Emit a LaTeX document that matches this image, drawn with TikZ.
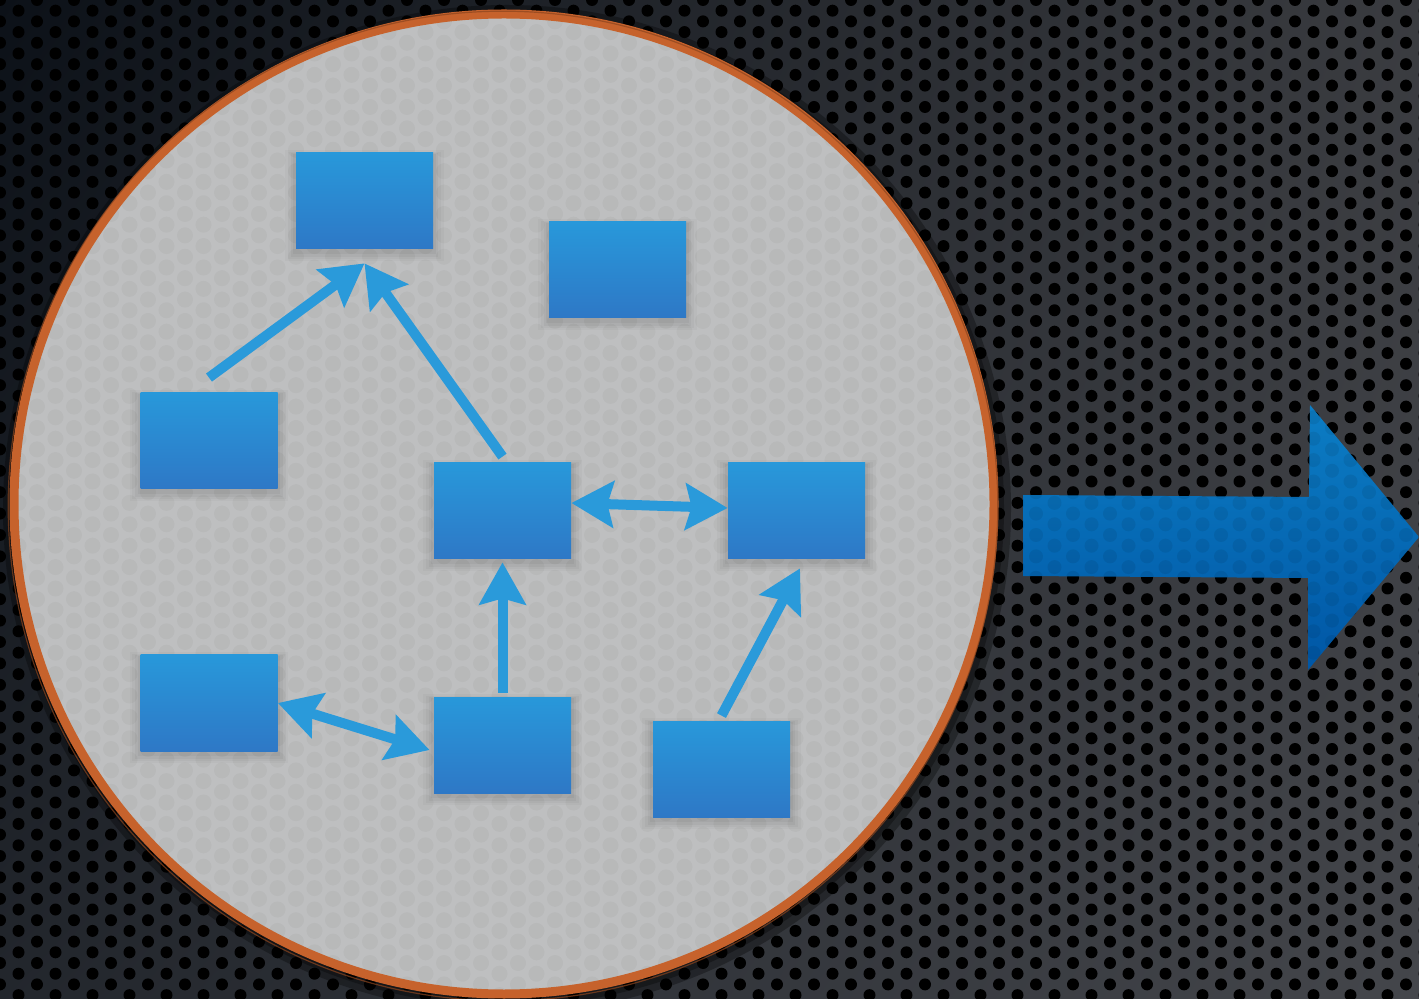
\documentclass[tikz,border=0pt]{standalone}
\usetikzlibrary{arrows.meta,shadows,shadings}
\definecolor{bgdark}{HTML}{0C1118}
\definecolor{bglight}{HTML}{44464B}
\definecolor{disc}{HTML}{BEBFC0}
\definecolor{rim}{HTML}{C6622C}
\definecolor{boxtop}{HTML}{2898DA}
\definecolor{boxbot}{HTML}{2E78C6}
\definecolor{arrc}{HTML}{2A9ADA}
\definecolor{bigtop}{HTML}{0C7DC4}
\definecolor{bigbot}{HTML}{0056A5}
\tikzset{
  blk/.style={rectangle, minimum width=68.5pt, minimum height=48pt, inner sep=0pt,
    top color=boxtop, bottom color=boxbot,
    general shadow={fill=black, opacity=0.025, shadow scale=1.16, shadow yshift=-2pt},
    general shadow={fill=black, opacity=0.03, shadow scale=1.12, shadow yshift=-2pt},
    general shadow={fill=black, opacity=0.035, shadow scale=1.08, shadow yshift=-2pt},
    general shadow={fill=black, opacity=0.04, shadow scale=1.04, shadow yshift=-1.5pt}},
  con/.style={draw=arrc, line width=5pt, -{Stealth[length=21pt, width=23pt, inset=3pt]}},
  bicon/.style={draw=arrc, line width=5pt, {Stealth[length=21pt, width=23pt, inset=3pt]}-{Stealth[length=21pt, width=23pt, inset=3pt]}},
}
\begin{document}
\begin{tikzpicture}[x=0.5pt, y=-0.5pt]
\useasboundingbox (0,0) rectangle (1419,999);
% background
\shade[upper left=bgdark, upper right=bglight!85!black, lower left=bgdark!60!bglight, lower right=bglight]
  (0,0) rectangle (1419,999);
\foreach \i in {0,...,77} {
  \foreach \j in {0,...,47} {
    \fill[black] ({\i*18.5}, {\j*21.4 + mod(\i,2)*10.7}) circle[radius=3pt];
  }
}
% disc shadow
\fill[black, opacity=0.3] (507,509) circle[radius=252pt];
\fill[black, opacity=0.3] (506,508) circle[radius=249pt];
% disc
\fill[disc] (504,504) circle[radius=245pt];
\begin{scope}
  \clip (504,504) circle[radius=245pt];
  \foreach \i in {0,...,54} {
    \foreach \j in {0,...,47} {
      \fill[black, opacity=0.03] ({\i*18.5}, {\j*21.4 + mod(\i,2)*10.7}) circle[radius=4pt];
    }
  }
\end{scope}
\draw[rim, line width=4.5pt] (504,504) circle[radius=245pt];
\draw[rim!70!black, line width=0.6pt, opacity=0.7] (503,506) circle[radius=247.4pt];
% boxes
\node[blk] (b1) at (364.5,201) {};
\node[blk] (b2) at (617.5,270) {};
\node[blk] (b3) at (209,441) {};
\node[blk] (b4) at (502.5,511) {};
\node[blk] (b5) at (796.5,511) {};
\node[blk] (b6) at (209,703) {};
\node[blk] (b7) at (502.5,745) {};
\node[blk] (b8) at (721.5,769) {};
% connectors
\draw[con] ([yshift=7.5pt]b3.north) -- ([yshift=-7pt]b1.south);
\draw[con] ([yshift=3pt]b4.north) -- ([yshift=-7pt]b1.south);
\draw[bicon] ([yshift=4pt]b4.east) -- ([yshift=1.5pt]b5.west);
\draw[con] ([yshift=2pt]b7.north) -- ([yshift=-1.5pt]b4.south);
\draw[bicon] (b6.east) -- ([xshift=-2pt,yshift=-2.5pt]b7.west);
\draw[con] ([yshift=2.5pt]b8.north) -- ([xshift=1.75pt,yshift=-4.5pt]b5.south);
% big arrow
\coordinate (t) at (1419,537);
\shade[top color=bigtop, bottom color=bigbot]
  (1023,495) -- (1309,497) -- (1310,405) -- (t) -- (1308,670) -- (1308,578) -- (1023,576) -- cycle;
\begin{scope}
  \clip (1023,495) -- (1309,497) -- (1310,405) -- (t) -- (1308,670) -- (1308,578) -- (1023,576) -- cycle;
  \foreach \i in {55,...,77} {
    \foreach \j in {18,...,32} {
      \fill[black, opacity=0.07] ({\i*18.5}, {\j*21.4 + mod(\i,2)*10.7}) circle[radius=3.5pt];
    }
  }
\end{scope}
\end{tikzpicture}
\end{document}
